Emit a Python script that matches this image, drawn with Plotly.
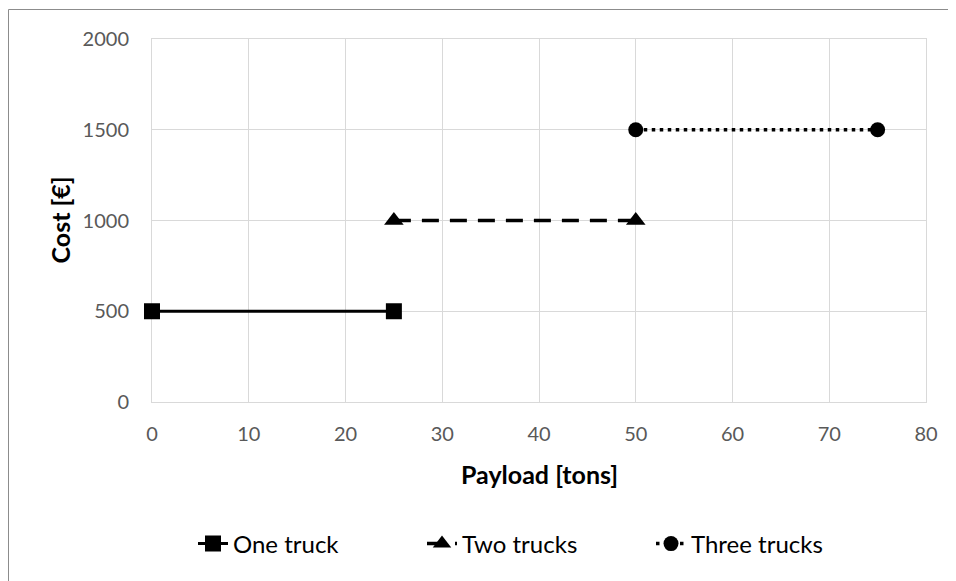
import plotly.graph_objects as go

# Data
series_names = ["One truck", "Two trucks", "Three trucks"]
one_truck_x = [0, 25]
one_truck_y = [500, 500]
two_trucks_x = [25, 50]
two_trucks_y = [1000, 1000]
three_trucks_x = [50, 75]
three_trucks_y = [1500, 1500]
x_ticks = [0, 10, 20, 30, 40, 50, 60, 70, 80]
y_ticks = [0, 500, 1000, 1500, 2000]

FONT = "Lato"
OFF = 8  # page body margin
W, H = 948, 573
L, R, T, B = 144, 30, 31, 179
pw, ph = W - L - R, H - T - B

def px2paper_x(page_px):
    return (page_px - OFF - L) / pw

def px2paper_y(page_py):
    return (H - B - (page_py - OFF)) / ph

fig = go.Figure()
fig.add_trace(go.Scatter(
    x=one_truck_x, y=one_truck_y, name=series_names[0], mode="lines+markers",
    line=dict(color="black", width=3),
    marker=dict(symbol="square", size=16, color="black"),
    cliponaxis=False,
))
fig.add_trace(go.Scatter(
    x=two_trucks_x, y=two_trucks_y, name=series_names[1], mode="lines+markers",
    line=dict(color="black", width=3.5, dash="17px,11px"),
    marker=dict(symbol="triangle-up", size=17, color="black"),
    cliponaxis=False,
))
fig.add_trace(go.Scatter(
    x=three_trucks_x, y=three_trucks_y, name=series_names[2], mode="lines+markers",
    line=dict(color="black", width=3.5, dash="3.5px,4.5px"),
    marker=dict(symbol="circle", size=15, color="black"),
    cliponaxis=False,
))

grid = "#d9d9d9"
fig.update_xaxes(
    range=[0, 80], tickvals=x_ticks, showgrid=True, gridcolor=grid, gridwidth=1,
    showline=True, linecolor=grid, linewidth=1, mirror=True, zeroline=False,
    ticks="outside", ticklen=14, tickcolor="rgba(0,0,0,0)", layer="below traces",
    tickfont=dict(family=FONT, size=20, color="#595959"),
)
fig.update_yaxes(
    range=[0, 2000], tickvals=y_ticks, showgrid=True, gridcolor=grid, gridwidth=1,
    showline=True, linecolor=grid, linewidth=1, mirror=True, zeroline=False,
    ticks="outside", ticklen=18, tickcolor="rgba(0,0,0,0)", layer="below traces",
    tickfont=dict(family=FONT, size=20, color="#595959"),
)

fig.add_annotation(
    text="<b>Payload [tons]</b>", xref="paper", yref="paper",
    x=0.5, y=px2paper_y(474), xanchor="center", yanchor="middle", showarrow=False,
    font=dict(family=FONT, size=25, color="black"),
)
fig.add_annotation(
    text="<b>Cost [€]</b>", xref="paper", yref="paper", textangle=-90,
    x=px2paper_x(59), y=0.5, xanchor="center", yanchor="middle", showarrow=False,
    font=dict(family=FONT, size=25, color="black"),
)

# outer chart border
fig.add_shape(
    type="rect", xref="paper", yref="paper",
    x0=px2paper_x(8.5), y0=px2paper_y(620), x1=px2paper_x(1000), y1=px2paper_y(9.5),
    line=dict(color="#8c8c8c", width=1), fillcolor="rgba(0,0,0,0)", layer="below",
)

fig.update_layout(
    width=W, height=H, margin=dict(l=L, r=R, t=T, b=B, pad=0),
    plot_bgcolor="white", paper_bgcolor="white",
    showlegend=True,
    legend=dict(
        orientation="h", x=px2paper_x(193), y=px2paper_y(544),
        xanchor="left", yanchor="middle",
        entrywidth=184, entrywidthmode="pixels",
        font=dict(family=FONT, size=24, color="black"),
        bgcolor="rgba(0,0,0,0)",
    ),
)

fig.write_html("out.html")
